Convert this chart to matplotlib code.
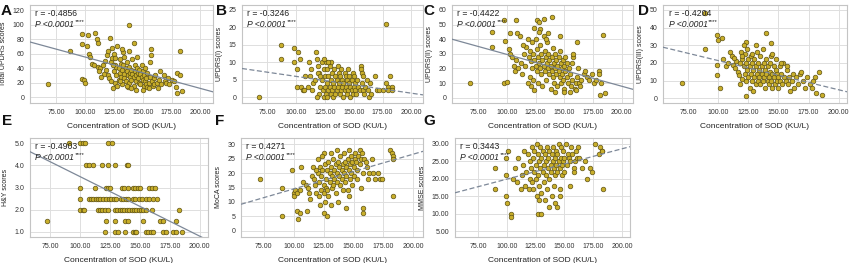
import matplotlib
matplotlib.use("Agg")
import matplotlib.pyplot as plt
import numpy as np

plt.rcParams['font.family'] = ['Liberation Sans', 'DejaVu Sans']

# ---------------- data ----------------
A_x = [68,87,97,102,108.7,97,97,98.5,100,101.5,103,104.3,110,110.7,137.7,121.7,142,182.6,184,180,
       106,108,111,113,115,117,118,119,120,120,121,122,122,123,123,124,125,125,126,126,127,127,128,128,
       129,129,130,130,131,131,132,132,133,133,134,134,135,135,136,136,137,137,138,138,139,139,140,140,
       141,141,142,142,143,143,144,144,145,145,146,146,147,147,148,148,149,149,150,150,151,151,152,152,
       153,153,154,154,155,156,156,157,157,158,159,160,160,161,162,163,164,165,166,168,169,170,172,173,
       175,177,179,180,182,116,114,112,124,126,130,134,138,132,136,140,144,150,155]
A_y = [18,63,87,86,88,73,25,24,19,70,60,56,80,74,99,81,74,63,8,6,
       46,44,42,40,45,50,38,58,64,30,26,22,48,54,68,12,36,60,45,20,42,30,70,16,
       40,24,34,52,28,46,38,18,44,62,32,26,40,22,36,48,30,14,42,20,34,28,38,24,
       52,32,28,16,44,36,30,22,40,55,34,26,20,38,32,18,28,44,24,36,30,16,22,40,
       26,18,34,14,20,28,48,66,58,22,16,26,18,30,20,12,24,36,18,30,22,20,26,18,
       24,22,14,34,30,32,28,36,44,54,22,56,64,66,16,12,10,10,12]

B_x = [68,87,87,98,102,98,103,101,101,104,106,108,110,111,112,114,115,117,118,119,120,120,121,122,122,
       123,124,124,125,125,126,126,127,127,128,128,129,129,130,130,131,131,132,132,133,133,134,134,135,
       135,136,136,137,137,138,138,139,139,140,140,141,141,142,142,143,143,144,144,145,145,146,146,147,
       147,148,148,149,149,150,150,151,151,152,153,154,155,156,156,157,157,158,158,159,160,161,162,163,
       164,165,168,170,172,175,178,178,180,180,181,183,183,116,113,107,118,130,128,124,119,121,127]
B_y = [0,15,11,14,13,10,11,8,3,3,2,6,3,10,6,2,4,13,11,9,1,7,3,10,5,
       2,8,0,6,3,10,1,4,8,2,6,3,9,5,1,7,2,4,0,8,3,6,1,2,
       5,9,3,4,7,1,6,2,8,3,5,4,0,7,2,6,3,1,5,2,8,4,6,3,
       0,5,2,1,7,3,6,2,4,1,5,3,2,9,8,7,4,2,6,1,3,5,2,0,
       4,1,6,2,2,2,21,4,3,2,6,3,2,5,8,2,0,10,10,11,7,6,0]

C_x = [67.5,87,87,97,98.5,97,100,108,103,101.5,103,108.7,126,132,139.6,136,129,184,181,185.5,161,146,
       104,106,107,108,110,112,113,115,116,117,118,119,120,120,121,121,122,122,123,123,124,124,125,125,
       126,126,127,127,128,128,129,129,130,130,131,131,132,132,133,133,134,134,135,135,136,136,137,137,
       138,138,139,139,140,140,141,141,142,142,143,143,144,144,145,145,146,146,147,147,148,148,149,149,
       150,150,151,151,152,152,153,154,155,156,157,157,158,158,159,160,161,162,163,164,165,167,168,170,
       172,174,176,178,180,180,182,118,114,111,124,128,134,142,150,155,160]
C_y = [10,45,35,53,39,10,11,53,44,33,30,44,53,54,55,44,47,43,2,3,38,42,
       28,22,18,26,20,24,16,30,22,35,40,28,14,32,25,8,20,38,30,12,26,5,22,40,
       18,33,28,10,24,45,20,36,16,30,26,8,22,42,18,32,28,12,24,38,20,30,16,26,
       22,6,28,18,14,34,24,10,20,30,16,26,22,8,18,28,14,32,24,10,20,16,26,12,
       22,6,18,28,14,24,10,20,16,8,12,24,28,30,6,10,14,20,10,8,12,16,18,14,
       12,16,10,12,18,16,10,10,36,42,48,52,40,4,4,4,5]

D_x = [70,88.6,88.6,99,100,103,99,99,101,140,144,123,123,181,186,180,184,
       104,106,108,110,111,112,114,115,116,117,118,119,120,120,121,121,122,122,123,123,124,124,125,125,
       126,126,127,127,128,128,129,129,130,130,131,131,132,132,133,133,134,134,135,135,136,136,137,137,
       138,138,139,139,140,140,141,141,142,142,143,143,144,144,145,145,146,146,147,148,148,149,149,150,
       150,151,151,152,153,154,155,156,157,158,159,160,161,162,163,165,166,168,169,170,172,174,176,178,
       179,120,118,113,131,128,145,152,157]
D_y = [8.5,28,48,36,33,34,19,13,6,37,31,32,1,3,2,12,15,
       22,18,20,26,24,19,17,21,15,13,8,26,22,11,18,30,14,25,20,10,16,28,12,22,
       18,6,14,24,10,20,16,4,12,22,18,8,14,26,10,20,16,12,24,8,14,18,10,28,
       20,12,16,6,14,22,10,18,12,8,20,15,10,24,14,6,18,12,8,16,22,10,14,12,
       6,18,10,14,8,20,12,10,16,8,12,4,10,14,6,12,8,14,15,10,6,12,8,6,
       10,24,20,23,30,25,25,20,18]

E_x = [90.3,100,102,104,123.6,126.4,
       105,107,111,118,123.6,129,139,140,
       100,112,121.7,123.5,125,135,137,140,144,146,148,150,158,160,162.5,
       100,107,109,111,113,115,117,119,122,124,126,128,130,134,136,138,140,144,146,149,152,155,158,161,164,
       100,102,103,115,117,118,121,123,129,131,133,135,137,139,141,143,145,147,149,151,153,155,160,183,
       72,122,129,137.5,140,153,167,169,180.5,
       121,129,132,137.5,144,145.5,147,155,157,159,161,169,172,178,180,185]
E_y = [5,5,5,5,5,5,
       4,4,4,4,4,4,4,4,
       3,3,3,3,3,3,3,3,3,3,3,3,3,3,3,
       2.5,2.5,2.5,2.5,2.5,2.5,2.5,2.5,2.5,2.5,2.5,2.5,2.5,2.5,2.5,2.5,2.5,2.5,2.5,2.5,2.5,2.5,2.5,2.5,2.5,
       2,2,2,2,2,2,2,2,2,2,2,2,2,2,2,2,2,2,2,2,2,2,2,2,
       1.5,1.5,1.5,1.5,1.5,1.5,1.5,1.5,1.5,
       1,1,1,1,1,1,1,1,1,1,1,1,1,1,1,1]

F_x = [71.7,90.3,90.3,98.6,100,100,102.8,104,105,111,106,125,158,158,125,128,144,183,180.5,182,183,183,
       101,103,105,108,110,112,113,115,116,117,118,119,120,120,121,121,122,122,123,123,124,124,125,125,
       126,126,127,127,128,128,129,129,130,130,131,131,132,132,133,133,134,134,135,135,136,136,137,137,
       138,138,139,139,140,140,141,141,142,142,143,143,144,144,145,145,146,146,147,147,148,148,149,149,
       150,150,151,151,152,153,154,155,155,156,156,157,158,159,160,161,162,163,165,166,168,170,172,174,
       119,114,131,136,146,153]
F_y = [18,15,5,21,13,12,7,4,6,7,22,27,8,6,6,5,8,12,28,27,26,25,
       14,13,14,17,16,15,13,19,22,18,16,13,20,25,17,12,22,9,19,14,21,26,16,13,
       23,10,18,15,21,14,24,12,17,20,22,9,19,15,25,16,18,21,13,23,20,17,24,10,
       19,22,16,26,21,18,23,14,20,27,17,24,22,19,25,14,21,28,23,18,20,26,24,16,
       22,19,27,25,24,21,26,28,23,25,15,27,20,25,24,22,18,20,25,20,18,20,18,18,
       21,11,27,28,12,18]

G_x = [90,90,99.4,99.4,99.4,100,103.5,103.5,101,127.5,130,143.5,183.5,176.8,181,182.6,180,183,
       105,107,109,110,112,113,114,115,116,117,118,119,120,120,121,122,122,123,123,124,124,125,125,
       126,126,127,127,128,128,129,129,130,130,131,131,132,132,133,133,134,134,135,135,136,136,137,137,
       138,138,139,139,140,140,141,141,142,142,143,143,144,144,145,145,146,146,147,147,148,148,149,149,
       150,150,151,152,153,154,155,155,156,157,158,158,159,160,161,162,163,165,168,170,172,174,
       142,137,146,128]
G_y = [23,17,26,21,15,13,10,9,28,10,10,12,17,30,29,28,27,28,
       20,23,19,26,17,21,24,28,18,22,27,17,20,25,23,29,19,26,17,22,28,24,20,
       30,15,27,21,25,18,29,23,26,16,22,28,24,19,27,14,25,21,29,17,23,26,28,20,
       24,22,27,15,25,29,23,18,26,21,28,24,22,27,30,25,17,23,26,29,24,21,28,25,
       26,22,30,24,27,26,25,18,29,27,23,22,25,28,26,29,26,23,25,20,23,22,
       13,12,15,14]

panel_letters = ["A", "B", "C", "D", "E", "F", "G"]
y_labels = ["Total UPDRS scores", "UPDRS(I) scores", "UPDRS(II) scores", "UPDRS(III) scores",
            "H&Y scores", "MoCA scores", "MMSE scores"]
r_values = ["-0.4856", "-0.3246", "-0.4422", "-0.4204", "-0.4903", "0.4271", "0.3443"]
fit_slope = [-0.432, -0.048, -0.217, -0.165, -0.0269, 0.121, 0.087]
fit_intercept = [98.5, 10.8, 51.3, 37.8, 6.18, 2.4, 11.2]
x_ticks = [75, 100, 125, 150, 175, 200]
y_ticks = [[0, 20, 40, 60, 80, 100, 120], [0, 5, 10, 15, 20, 25], [0, 10, 20, 30, 40, 50, 60],
           [0, 10, 20, 30, 40, 50], [1.0, 2.0, 3.0, 4.0, 5.0], [0, 5, 10, 15, 20, 25, 30],
           [5, 10, 15, 20, 25, 30]]
y_fmt = ["{:.0f}", "{:.0f}", "{:.0f}", "{:.0f}", "{:.1f}", "{:.0f}", "{:.2f}"]
xs = [A_x, B_x, C_x, D_x, E_x, F_x, G_x]
ys = [A_y, B_y, C_y, D_y, E_y, F_y, G_y]

# ---------------- layout ----------------
W, H = 850, 263
# (left, top, right, bottom) in pixels
boxes = [(30, 5, 213, 103), (242, 5, 423, 103), (452, 5, 633, 103), (663, 5, 847, 103),
         (30, 138, 208, 237), (241, 138, 423, 237), (455, 138, 630, 237)]
xlims = [(52, 211), (53, 210), (52, 210), (54, 207), (58, 207), (56, 208), (55, 207)]
ylims = [(-8, 127), (-1.6, 26.4), (-3.6, 63.4), (-2.7, 52.8), (0.76, 5.24), (-2.2, 32.2), (3.3, 31.7)]
line_styles = ["-", "--", "-", "--", "-", "--", "--"]
letter_pos = [(1, 4), (216, 4), (423, 4), (638, 4), (2, 114), (215, 114), (423, 114)]

fig = plt.figure(figsize=(W / 100, H / 100), dpi=100)
fig.patch.set_facecolor("white")

for i in range(7):
    l, t, r, b = boxes[i]
    ax = fig.add_axes([l / W, 1 - b / H, (r - l) / W, (b - t) / H])
    ax.set_xlim(*xlims[i])
    ax.set_ylim(*ylims[i])
    ax.set_axisbelow(True)
    ax.grid(True, color="#dedede", linewidth=0.7)
    for s in ax.spines.values():
        s.set_color("#c4c4c4")
        s.set_linewidth(0.8)
    ax.set_xticks(x_ticks)
    ax.set_xticklabels(["{:.2f}".format(v) for v in x_ticks])
    ax.set_yticks(y_ticks[i])
    ax.set_yticklabels([y_fmt[i].format(v) for v in y_ticks[i]])
    ax.tick_params(length=0, labelsize=5, colors="#333333", pad=4)
    ax.set_xlabel("Concentration of SOD (KU/L)", fontsize=6, color="#222222", labelpad=5)
    ax.set_ylabel(y_labels[i], fontsize=5, color="#222222", labelpad=4)

    ax.scatter(xs[i], ys[i], s=11, facecolor="#c8ae2a", edgecolor="#5e5214", linewidth=0.5, zorder=3)

    lx = np.array(xlims[i], dtype=float)
    ax.plot(lx, fit_intercept[i] + fit_slope[i] * lx, color="#7d8898", linewidth=0.9,
            linestyle=line_styles[i], dashes=(4, 2) if line_styles[i] == "--" else (None, None), zorder=4)

    ax.text(0.03, 0.91, "r = " + r_values[i], transform=ax.transAxes, fontsize=6.2,
            color="#222222", va="center", ha="left", zorder=5)
    t2 = ax.text(0.03, 0.80, "P <0.0001", transform=ax.transAxes, fontsize=6.2, style="italic",
                 color="#222222", va="center", ha="left", zorder=5)
    ax.annotate("****", xy=(1.0, 0.55), xycoords=t2, fontsize=4.5, color="#222222",
                va="bottom", ha="left", style="italic", zorder=5)

    fig.text(letter_pos[i][0] / W, 1 - letter_pos[i][1] / H, panel_letters[i], fontsize=11,
             fontweight="bold", va="top", ha="left", color="#111111")

fig.savefig("out.png", dpi=100, facecolor="white")
